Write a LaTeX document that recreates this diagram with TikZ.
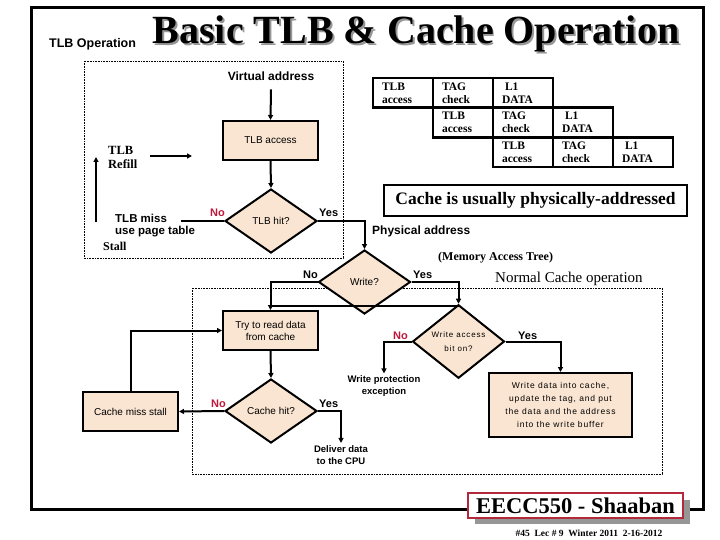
\documentclass[tikz,border=0pt]{standalone}
\usepackage{fontspec}
\setmainfont{Liberation Serif}
\setsansfont{Liberation Sans}
\newfontfamily\widesans[LetterSpace=10]{Liberation Sans}
\usetikzlibrary{arrows.meta,shapes.geometric,positioning,calc}
\usepackage{xcolor}

\definecolor{peach}{RGB}{250,229,210}
\definecolor{nored}{RGB}{190,25,60}
\definecolor{framered}{RGB}{180,40,60}
\definecolor{shadowgray}{RGB}{150,150,150}

\tikzset{
    flowbox/.style={draw, line width=2pt, fill=peach, minimum width=95pt, minimum height=39pt, align=center, inner sep=1pt, font=\sffamily\fontsize{10}{12}\selectfont},
    decision/.style={diamond, draw, line width=2pt, fill=peach, minimum width=92pt, minimum height=64pt, inner sep=0pt, align=center, font=\sffamily\fontsize{10}{12}\selectfont},
    arr/.style={line width=2pt, -{Triangle[length=5pt,width=5pt]}},
    wire/.style={line width=2pt},
    nolabel/.style={text=nored, font=\sffamily\bfseries\fontsize{11}{12}\selectfont, inner sep=0pt, anchor=base west},
    yeslabel/.style={font=\sffamily\bfseries\fontsize{11}{12}\selectfont, inner sep=0pt, anchor=base west},
    note/.style={font=\sffamily\bfseries\fontsize{11.5}{13}\selectfont, align=left, inner sep=0pt},
    region/.style={densely dotted, line width=0.6pt},
    pipecell/.style={draw, line width=2.5pt, minimum width=60pt, minimum height=29.7pt, text width=42pt, inner xsep=9pt, inner ysep=2pt, align=left, font=\bfseries\fontsize{11.5}{13}\selectfont}
}

\begin{document}
\begin{tikzpicture}[x=1pt, y=-1pt]
        \useasboundingbox (0,0) rectangle (720,540);
        % Draw outer frame and dotted regions
        \draw[line width=3pt] (31,8) rectangle (703,509);
        \draw[region] (84,61) rectangle (343,258);
        \draw[region] (192,288) rectangle (662,474);

        % Title
        \node[font=\bfseries\fontsize{40}{44}\selectfont, anchor=base] (title) at (416,44) {\rlap{\raisebox{-2pt}{\kern2pt\textcolor{shadowgray}{Basic TLB \& Cache Operation}}}Basic TLB \& Cache Operation};
        \node[font=\sffamily\bfseries\fontsize{12.5}{14}\selectfont, anchor=base west, inner sep=0pt] (tlbop) at (49,48) {TLB Operation};

        % Pipeline of TLB access / tag check / data
        \foreach \r in {0,1,2} {
            \foreach \c/\ta/\tb in {0/TLB/access,1/TAG/check,2/\kern3pt L1/DATA} {
                \pgfmathsetmacro{\k}{\r+\c}
                \node[pipecell] (pipe-\r-\c) at ({403+60*\k},{92.85+29.7*\r}) {\ta\\\tb};
            }
        }

        % TLB part
        \node[note, font=\sffamily\bfseries\fontsize{12}{13}\selectfont, anchor=base] (va) at (271,81) {Virtual address};
        \node[flowbox] (tlbacc) at (270.5,140.5) {TLB access};
        \node[decision] (tlbhit) at (271,221) {TLB hit?};
        \node[note, anchor=base west] (tlbmiss) at (115,235) {TLB miss\\use page table};
        \node[note, font=\bfseries\fontsize{12.5}{14}\selectfont, anchor=base west] (refill) at (108,169) {TLB\\Refill};
        \node[note, font=\bfseries\fontsize{12}{13}\selectfont, anchor=base west] (stall) at (103,251) {Stall};
        \coordinate (missend) at (181,221);
        \coordinate (stallbot) at (96,222);
        \coordinate (stalltop) at (96,157);
        \coordinate (refillA) at (150,156);
        \coordinate (refillB) at (192,156);

        \draw[arr] ([yshift=-8pt]va.south) -- (tlbacc.north);
        \draw[arr] (tlbacc.south) -- (tlbhit.north);
        \draw[wire] (tlbhit.west) -- (missend);
        \draw[arr] (stallbot) -- (stalltop);
        \draw[arr] (refillA) -- (refillB);
        \node[nolabel] (no1) at (210,217) {No};
        \node[yeslabel] (yes1) at (319,217) {Yes};

        % Cache part
        \node[draw, line width=2pt, minimum width=303pt, minimum height=31pt, inner sep=0pt, font=\bfseries\fontsize{17.5}{20}\selectfont] (cachebox) at (535.5,200.5) {Cache is usually physically-addressed};
        \node[note, font=\sffamily\bfseries\fontsize{12}{13}\selectfont, anchor=base west] (phys) at (372,235) {Physical address};
        \node[note, font=\bfseries\fontsize{12}{13}\selectfont, anchor=base west] (mat) at (438,260) {(Memory Access Tree)};
        \node[note, font=\fontsize{15}{17}\selectfont, anchor=base west] (normal) at (495,282) {Normal Cache operation};

        \node[decision] (write) at (364.5,282) {Write?};
        \node[flowbox] (try) at (270.5,330.5) {Try to read data\\from cache};
        \node[decision, font=\widesans\fontsize{8}{14}\selectfont] (wab) at (458.5,341.5) {Write access\\bit on?};
        \node[note, font=\sffamily\bfseries\fontsize{9.5}{11.5}\selectfont, align=center, anchor=base] (wpe) at (384,394) {Write protection\\exception};
        \node[flowbox, minimum width=143pt, minimum height=64pt, font=\widesans\fontsize{8.5}{13}\selectfont] (wdata) at (560.5,405) {Write data into cache,\\update the tag, and put\\the data and the address\\into the write buffer};
        \node[decision] (chit) at (271,411) {Cache hit?};
        \node[flowbox] (cms) at (130.5,411.5) {Cache miss stall};
        \node[note, font=\sffamily\bfseries\fontsize{9.5}{12}\selectfont, align=center, anchor=base] (deliver) at (341,464) {Deliver data\\to the CPU};

        \draw[arr] (tlbhit.east) -| (write.north);
        \draw[arr] (write.west) -| (try.north);
        \draw[arr] (write.east) -| (wab.north);
        \coordinate (joinL) at ([yshift=4pt]try.north);
        \coordinate (joinR) at (joinL -| wab.north);
        \draw[wire] (joinL) -- (joinR);
        \draw[arr] (try.south) -- (chit.north);
        \draw[arr] (chit.west) -- (cms.east);
        \draw[arr] (cms.north) |- (try.west);
        \draw[arr] (chit.east) -| ([yshift=2pt]deliver.north);
        \draw[arr] (wab.west) -| ([yshift=2pt]wpe.north);
        \draw[arr] (wab.east) -| (wdata.north);

        \node[yeslabel, text=black] (no2) at (303,278) {No};
        \node[yeslabel] (yes2) at (413,278) {Yes};
        \node[nolabel] (no3) at (393,339) {No};
        \node[yeslabel] (yes3) at (518,339) {Yes};
        \node[nolabel] (no4) at (211,407) {No};
        \node[yeslabel] (yes4) at (319,407) {Yes};

        % Footer
        \fill[shadowgray] (475,500) rectangle (690,524);
        \node[draw=framered, fill=white, line width=2pt, minimum width=215pt, minimum height=25pt, inner sep=0pt, font=\bfseries\fontsize{22.5}{24}\selectfont] (eecc) at (575.5,505.5) {EECC550 - Shaaban};
        \node[font=\bfseries\fontsize{9.5}{11}\selectfont, anchor=base] (footer) at (589,536) {\#45~~Lec \# 9~~Winter 2011~~2-16-2012};
\end{tikzpicture}
\end{document}
